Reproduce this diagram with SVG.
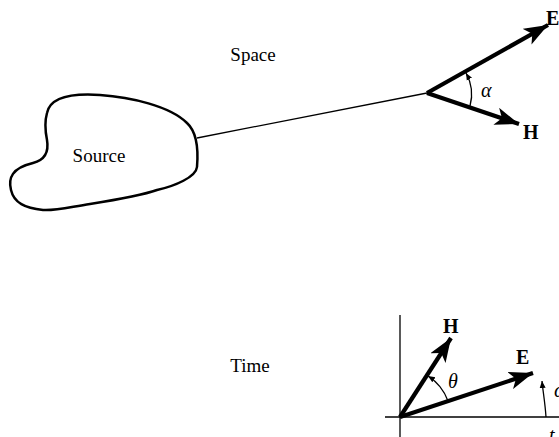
<svg xmlns="http://www.w3.org/2000/svg" width="559" height="437" viewBox="0 0 559 437">
<style>
text{font-family:"Liberation Serif","Times New Roman",serif;fill:#000}
.lbl{font-size:19px}
.vec{font-size:20px;font-weight:bold}
.gr{font-size:20px;font-style:italic}
.thin{fill:none;stroke:#000;stroke-width:1.3}
.blob{fill:none;stroke:#000;stroke-width:2.5}
.thick{fill:none;stroke:#000;stroke-width:4.2}
</style>
<defs>
<marker id="ah" markerUnits="userSpaceOnUse" markerWidth="26" markerHeight="18" refX="24" refY="9" orient="auto">
<path d="M0,0 L24,9 L0,18 L6,9 Z" fill="#000"/>
</marker>
<marker id="sm" markerUnits="userSpaceOnUse" markerWidth="8" markerHeight="8" refX="7" refY="4" orient="auto">
<path d="M0,1 L7,4 L0,7 Z" fill="#000"/>
</marker>
</defs>
<g id="source">
<path class="blob" d="M47,113 C50,98 70,93 100,95 C130,97 170,106 187,123 C198,133 198,155 197,167 C196,177 175,186 157,190 C140,196 115,200 90,204 C70,207 55,211 43,210 C25,208 14,203 11,190 C8,178 12,168 33,163 C45,160 49,152 47,140 C45,130 45,120 47,113 Z"/>
<text class="lbl" x="99" y="162" text-anchor="middle">Source</text>
</g>
<g id="space-label"><text class="lbl" x="253" y="61" text-anchor="middle">Space</text></g>
<g id="time-label"><text class="lbl" x="250" y="372" text-anchor="middle">Time</text></g>
<g id="connectors">
<line class="thin" x1="197" y1="138" x2="427" y2="93"/>
<line class="thick" x1="427" y1="93" x2="548" y2="25" marker-end="url(#ah)"/>
<line class="thick" x1="427" y1="93" x2="519" y2="124" marker-end="url(#ah)"/>
<path class="thin" d="M470,106 A44,44 0 0 0 466,73" marker-end="url(#sm)"/>
<line class="thin" x1="400" y1="315" x2="400" y2="437"/>
<line class="thin" x1="385" y1="417" x2="559" y2="417"/>
<line class="thick" x1="400" y1="417" x2="451" y2="338" marker-end="url(#ah)"/>
<line class="thick" x1="400" y1="417" x2="533" y2="373" marker-end="url(#ah)"/>
<path class="thin" d="M448,401 A50,50 0 0 0 428,376" marker-end="url(#sm)"/>
<path class="thin" d="M546,417 C545,402 543,392 542,381" marker-end="url(#sm)"/>
</g>
<g id="vec-labels">
<text class="vec" x="546" y="25">E</text>
<text class="vec" x="523" y="139">H</text>
<text class="gr" x="481" y="97">α</text>
<text class="vec" x="443" y="333">H</text>
<text class="vec" x="516" y="364">E</text>
<text class="gr" x="448" y="388">θ</text>
<text class="gr" x="554" y="397">ω</text>
<text class="gr" x="549" y="442">t</text>
</g>
</svg>
